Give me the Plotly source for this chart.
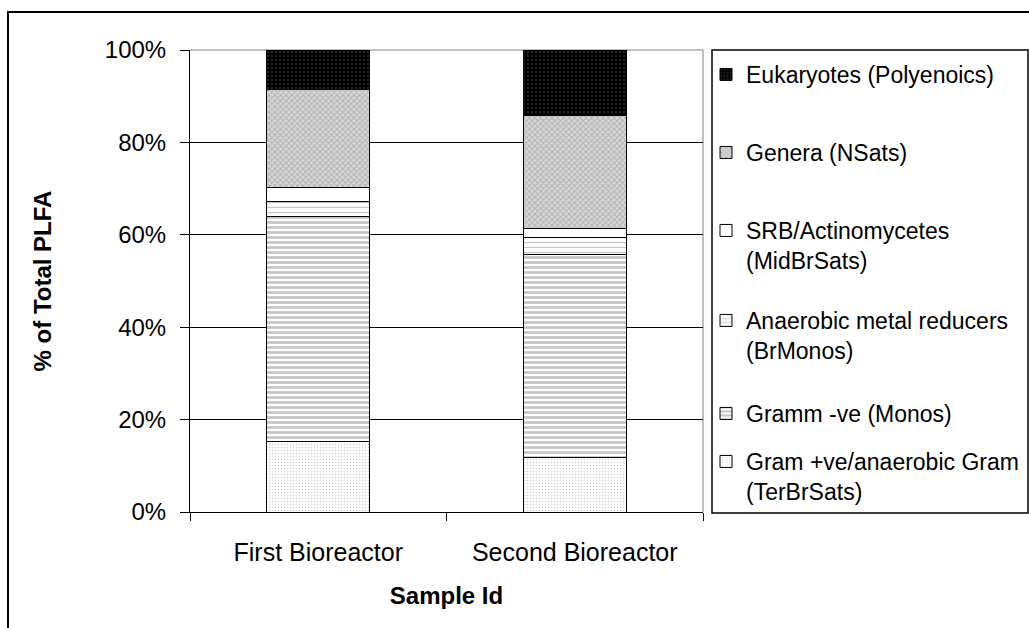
import plotly.graph_objects as go

# Sample categories
samples = ["First Bioreactor", "Second Bioreactor"]

# Community composition (% of total PLFA), bottom of stack first
gram_pos = [15.2, 11.9]      # Gram +ve/anaerobic Gram (TerBrSats)
gram_neg = [48.7, 43.8]      # Gramm -ve (Monos)
anaerobic = [3.3, 3.7]       # Anaerobic metal reducers (BrMonos)
srb = [3.0, 2.0]             # SRB/Actinomycetes (MidBrSats)
genera = [21.3, 24.5]        # Genera (NSats)
eukaryotes = [8.5, 14.1]     # Eukaryotes (Polyenoics)

y_ticks = [0, 20, 40, 60, 80, 100]
y_tick_labels = ["0%", "20%", "40%", "60%", "80%", "100%"]

FONT = "Liberation Sans, Arial, sans-serif"

# figure geometry (px)
W, H = 1029, 628
L, R, T, B = 190, 1029 - 703, 50, 628 - 512
PW = W - L - R
PH = H - T - B


def px_x(x):
    return (x - L) / PW


def px_y(y):
    return (H - B - y) / PH


series = [
    # name, values, bg, fg, shape, size, solidity, legend text centre (px)
    ("Gram +ve/anaerobic Gram<br>(TerBrSats)", gram_pos, "white", "#9a9a9a", ".", 3, 0.2, 461),
    ("Gramm -ve (Monos)", gram_neg, "white", "#8e8e8e", "-", 5, 0.55, 413),
    ("Anaerobic metal reducers<br>(BrMonos)", anaerobic, "white", "#8a8a8a", "-", 5, 0.25, 320),
    ("SRB/Actinomycetes<br>(MidBrSats)", srb, "white", None, "", 5, 0.3, 230),
    ("Genera (NSats)", genera, "#d8d8d8", "#8a8a8a", "x", 4, 0.45, 152),
    ("Eukaryotes (Polyenoics)", eukaryotes, "black", "#666666", ".", 4, 0.2, 74),
]

fig = go.Figure()
legend_layouts = {}
for i, (name, vals, bg, fg, shape, size, sol, yc) in enumerate(series):
    key = "legend" if i == 0 else f"legend{i + 1}"
    pattern = dict(shape=shape)
    if shape:
        pattern.update(fgcolor=fg, bgcolor=bg, size=size, solidity=sol)
    fig.add_trace(go.Bar(
        x=samples, y=vals, name=name, legend=key,
        marker=dict(color=bg, pattern=pattern, line=dict(color="black", width=1)),
    ))
    legend_layouts[key] = dict(
        x=px_x(706), xanchor="left",
        y=px_y(yc - 21), yanchor="top",
        valign="top",
        bgcolor="rgba(0,0,0,0)", borderwidth=0,
        font=dict(family=FONT, size=23, color="black"),
    )

fig.update_layout(
    width=W, height=H,
    margin=dict(l=L, r=R, t=T, b=B, pad=0, autoexpand=False),
    paper_bgcolor="white", plot_bgcolor="white",
    barmode="stack", bargap=0.6,
    font=dict(family=FONT, size=24, color="black"),
    showlegend=True,
    **legend_layouts,
    xaxis=dict(
        showgrid=False, showline=True, linecolor="black", linewidth=1,
        ticks="outside", ticklen=8, tickcolor="black", tickson="boundaries",
        ticklabelstandoff=18,
        tickfont=dict(family=FONT, size=25),
        automargin=False,
        title=dict(text="<b>Sample Id</b>", font=dict(family=FONT, size=24), standoff=22),
    ),
    yaxis=dict(
        range=[0, 100], tickvals=y_ticks, ticktext=y_tick_labels,
        showgrid=True, gridcolor="black", gridwidth=1,
        showline=True, linecolor="black", linewidth=1, zeroline=False,
        ticks="outside", ticklen=9, tickcolor="black",
        ticklabelstandoff=9,
        tickfont=dict(family=FONT, size=24),
        automargin=False,
        title=dict(text="<b>% of Total PLFA</b>", font=dict(family=FONT, size=24), standoff=46),
    ),
    shapes=[
        # plot area frame (top and right)
        dict(type="line", xref="paper", yref="paper", x0=0, x1=1, y0=1, y1=1,
             line=dict(color="#808080", width=1), layer="below"),
        dict(type="line", xref="paper", yref="paper", x0=1, x1=1, y0=0, y1=1,
             line=dict(color="#808080", width=1), layer="below"),
        # legend frame
        dict(type="rect", xref="paper", yref="paper",
             x0=px_x(712), x1=px_x(1028), y0=px_y(513), y1=px_y(50),
             line=dict(color="black", width=1.5)),
        # chart border
        dict(type="rect", xref="paper", yref="paper",
             x0=px_x(8), x1=px_x(1042), y0=px_y(645), y1=px_y(12),
             line=dict(color="black", width=2)),
    ],
)

fig.write_html("out.html")
